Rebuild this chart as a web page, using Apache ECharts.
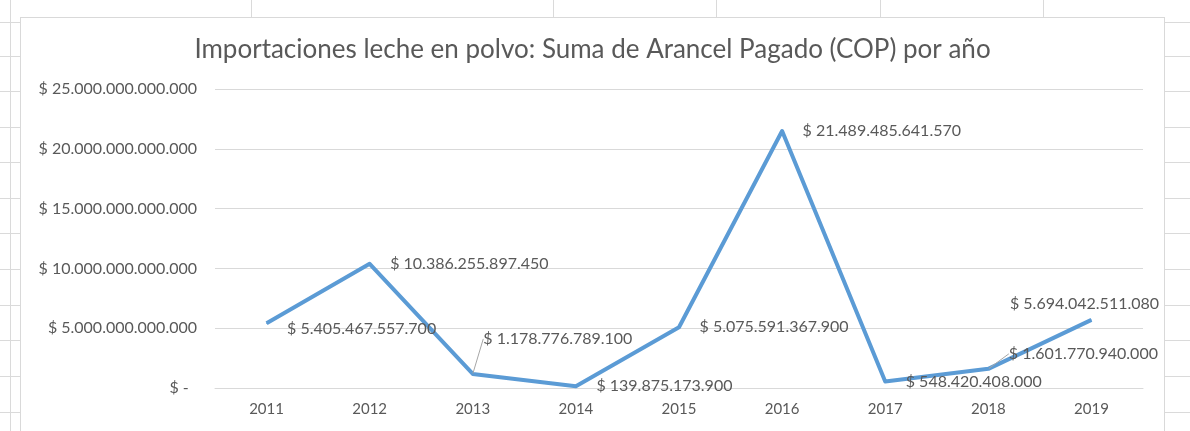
<!DOCTYPE html>
<html>
<head>
<meta charset="utf-8">
<script src="https://cdn.jsdelivr.net/npm/echarts@6/dist/echarts.min.js"></script>
<style>
    html, body { margin: 0; padding: 0; width: 1190px; height: 431px; overflow: hidden; background: #fff; }
    .vl { position: absolute; top: 0; width: 1px; height: 431px; background: #dadada; }
    .hl { position: absolute; left: 0; height: 1px; width: 1190px; background: #dadada; }
    #box { position: absolute; left: 20px; top: 17px; width: 1143px; height: 420px; background: #fff; border: 1px solid #d9d9d9; }
    #chart { width: 1143px; height: 414px; }
</style>
</head>
<body>
<div id="sheet"></div>
<div id="box"><div id="chart"></div></div>
<script>
    // spreadsheet cells behind the chart
    var colX = [10, 251, 553, 716, 880, 1043];
    var rowY = [22, 56, 91, 127, 162, 198, 233, 269, 305, 340, 376, 412];

    var years = ['2011', '2012', '2013', '2014', '2015', '2016', '2017', '2018', '2019'];
    var arancel = [5405467557700, 10386255897450, 1178776789100, 139875173900, 5075591367900,
                   21489485641570, 548420408000, 1601770940000, 5694042511080];
    var yTicks = [0, 5000000000000, 10000000000000, 15000000000000, 20000000000000, 25000000000000];

    var sheet = document.getElementById('sheet');
    for (let x of colX) {
        let d = document.createElement('div');
        d.className = 'vl'; d.style.left = x + 'px';
        sheet.appendChild(d);
    }
    for (let y of rowY) {
        let d = document.createElement('div');
        d.className = 'hl'; d.style.top = y + 'px';
        sheet.appendChild(d);
    }

    const fmt = (v) => String(v).replace(/\B(?=(\d{3})+(?!\d))/g, '.');

    // label nudges, like the hand-moved labels in the sheet
    var labelShift = {
        0: [0, 5],
        2: [-10, -35],
        7: [0, -15],
        8: [-102, -16]
    };
    // only these moved labels keep a leader line
    var withLeader = [2, 7];

    var chart = echarts.init(document.getElementById('chart'));
    var font = 'Lato';
    var txt = '#595959';

    var seriesData = arancel.map((v, i) => ({
        value: v,
        labelLine: { show: withLeader.indexOf(i) >= 0 }
    }));

    var option = {
        animation: false,
        textStyle: { fontFamily: font },
        title: {
            text: 'Importaciones leche en polvo: Suma de Arancel Pagado (COP) por año',
            left: 'center',
            top: 14,
            textStyle: { fontFamily: font, fontSize: 26, fontWeight: 'normal', color: txt }
        },
        grid: { left: 194, right: 21, top: 71, bottom: 44 },
        xAxis: {
            type: 'category',
            boundaryGap: true,
            data: years,
            axisLine: { lineStyle: { color: '#d9d9d9', width: 1 } },
            axisTick: { show: false },
            axisLabel: { color: txt, fontFamily: font, fontSize: 15, margin: 14 }
        },
        yAxis: {
            type: 'value',
            min: yTicks[0],
            max: yTicks[yTicks.length - 1],
            interval: yTicks[1] - yTicks[0],
            splitLine: { lineStyle: { color: '#d9d9d9', width: 1 } },
            axisLabel: {
                color: txt, fontFamily: font, fontSize: 16, margin: 18,
                formatter: (v) => v === 0 ? '$ -  ' : '$ ' + fmt(v)
            }
        },
        series: [{
            type: 'line',
            data: seriesData,
            symbol: 'circle',
            symbolSize: 1,
            showSymbol: true,
            itemStyle: { color: '#5b9bd5' },
            lineStyle: { color: '#5b9bd5', width: 4, join: 'round' },
            label: {
                show: true,
                position: 'right',
                distance: 20,
                color: txt,
                fontFamily: font,
                fontSize: 16,
                formatter: (p) => '$ ' + fmt(p.value)
            },
            labelLine: { show: false, lineStyle: { color: '#a6a6a6', width: 1 } },
            labelLayout: (p) => {
                let s = labelShift[p.dataIndex];
                return s ? { dx: s[0], dy: s[1] } : {};
            }
        }]
    };

    chart.setOption(option);
</script>
</body>
</html>
